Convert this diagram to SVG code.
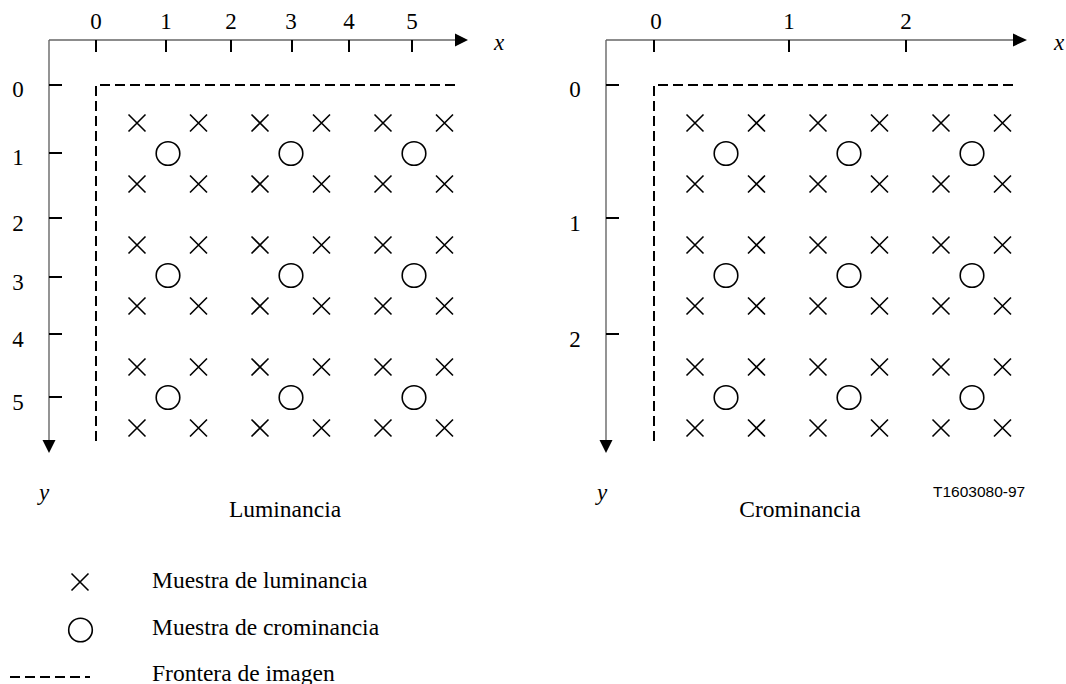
<svg xmlns="http://www.w3.org/2000/svg" xmlns:xlink="http://www.w3.org/1999/xlink" width="1066" height="684" viewBox="0 0 1066 684">
<style>
.axis{stroke:#666;stroke-width:1.4;fill:none}
.tick{stroke:#000;stroke-width:2;fill:none}
.bound{stroke:#000;stroke-width:2;fill:none;stroke-dasharray:10 5}
.smp{stroke:#000;stroke-width:1.6;fill:none}
.arrow{fill:#000;stroke:none}
.num{font-family:"Liberation Serif","Times New Roman",serif;font-size:23px;fill:#000;text-anchor:middle}
.var{font-family:"Liberation Serif","Times New Roman",serif;font-size:23px;font-style:italic;fill:#000;text-anchor:middle}
.lbl{font-family:"Liberation Serif","Times New Roman",serif;font-size:23.5px;fill:#000}
.code{font-family:"Liberation Sans",Arial,sans-serif;font-size:15.5px;fill:#000}
</style>
<defs>
<g id="cross"><path class="smp" d="M-8.5,-8.5L8.5,8.5M-8.5,8.5L8.5,-8.5"/></g>
<g id="circ"><circle class="smp" r="11.8"/></g>
<g id="cell">
<use xlink:href="#cross" x="0" y="0"/>
<use xlink:href="#cross" x="61.5" y="0"/>
<use xlink:href="#cross" x="0" y="61"/>
<use xlink:href="#cross" x="61.5" y="61"/>
<use xlink:href="#circ" x="31" y="30.5"/>
</g>
<g id="grid">
<use xlink:href="#cell" x="0" y="0"/>
<use xlink:href="#cell" x="123" y="0"/>
<use xlink:href="#cell" x="246" y="0"/>
<use xlink:href="#cell" x="0" y="122"/>
<use xlink:href="#cell" x="123" y="122"/>
<use xlink:href="#cell" x="246" y="122"/>
<use xlink:href="#cell" x="0" y="244"/>
<use xlink:href="#cell" x="123" y="244"/>
<use xlink:href="#cell" x="246" y="244"/>
</g>
</defs>
<rect width="1066" height="684" fill="#fff"/>

<g id="luminancia">
<g id="lum-axes">
<line class="axis" x1="49" y1="40" x2="456" y2="40"/>
<polygon class="arrow" points="455,33.5 468,40 455,46.5"/>
<line class="axis" x1="49" y1="40" x2="49" y2="441"/>
<polygon class="arrow" points="42.5,440 55.5,440 49,453"/>
<path class="tick" d="M96,40V52M166,40V52M231,40V52M292,40V52M349,40V52M412,40V52"/>
<path class="tick" d="M49,85H62M49,153H62M49,218H62M49,277H62M49,334H62M49,397H62"/>
</g>
<g id="lum-labels">
<text class="num" x="96" y="29">0</text>
<text class="num" x="166" y="29">1</text>
<text class="num" x="231" y="29">2</text>
<text class="num" x="291" y="29">3</text>
<text class="num" x="349" y="29">4</text>
<text class="num" x="412" y="29">5</text>
<text class="num" x="18" y="97">0</text>
<text class="num" x="18" y="165">1</text>
<text class="num" x="18" y="231">2</text>
<text class="num" x="18" y="290">3</text>
<text class="num" x="18" y="347">4</text>
<text class="num" x="18" y="410">5</text>
<text class="var" x="499" y="50">x</text>
<text class="var" x="44" y="500">y</text>
<text class="lbl" x="285" y="517" text-anchor="middle">Luminancia</text>
</g>
<path class="bound" d="M455,85H96V441"/>
<use xlink:href="#grid" x="137" y="123"/>
</g>

<g id="crominancia">
<g id="crom-axes">
<line class="axis" x1="606" y1="40" x2="1014" y2="40"/>
<polygon class="arrow" points="1013,33.5 1027,40 1013,46.5"/>
<line class="axis" x1="606" y1="40" x2="606" y2="441"/>
<polygon class="arrow" points="599.5,440 612.5,440 606,453"/>
<path class="tick" d="M654,40V52M789,40V52M906,40V52"/>
<path class="tick" d="M606,85H619M606,218H619M606,334H619"/>
</g>
<g id="crom-labels">
<text class="num" x="656" y="29">0</text>
<text class="num" x="789" y="29">1</text>
<text class="num" x="906" y="29">2</text>
<text class="num" x="575" y="97">0</text>
<text class="num" x="575" y="231">1</text>
<text class="num" x="575" y="347">2</text>
<text class="var" x="1059" y="50">x</text>
<text class="var" x="602" y="500">y</text>
<text class="lbl" x="800" y="517" text-anchor="middle">Crominancia</text>
<text class="code" x="933" y="497">T1603080-97</text>
</g>
<path class="bound" d="M1013,85H654V441"/>
<use xlink:href="#grid" x="695" y="123"/>
</g>

<g id="legend">
<g id="leg-lum"><use xlink:href="#cross" x="80" y="582"/><text class="lbl" x="152" y="588">Muestra de luminancia</text></g>
<g id="leg-crom"><use xlink:href="#circ" x="80.5" y="630"/><text class="lbl" x="152" y="635">Muestra de crominancia</text></g>
<g id="leg-bound"><line class="bound" x1="10" y1="677" x2="90" y2="677"/><text class="lbl" x="152" y="681">Frontera de imagen</text></g>
</g>
</svg>
